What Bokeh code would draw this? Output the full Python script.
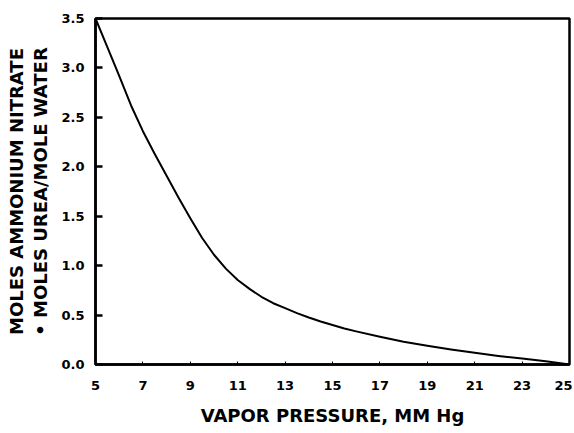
from bokeh.plotting import figure
from bokeh.models import Range1d, FixedTicker
from bokeh.embed import file_html
from bokeh.resources import INLINE

# Data
vapor_pressure = [5, 5.5, 6, 6.5, 7, 7.5, 8, 8.5, 9, 9.5, 10, 10.5, 11, 11.5, 12, 12.5,
                  13, 13.5, 14, 14.5, 15, 15.5, 16, 17, 18, 19, 20, 21, 22, 23, 24, 25]
moles_ratio = [3.5, 3.21, 2.92, 2.62, 2.36, 2.13, 1.91, 1.69, 1.48, 1.28, 1.11, 0.97,
               0.855, 0.765, 0.685, 0.62, 0.57, 0.52, 0.475, 0.435, 0.40, 0.365, 0.335,
               0.28, 0.23, 0.19, 0.152, 0.118, 0.087, 0.06, 0.033, 0.0]

x_ticks = [5, 7, 9, 11, 13, 15, 17, 19, 21, 23, 25]
y_ticks = [0.0, 0.5, 1.0, 1.5, 2.0, 2.5, 3.0, 3.5]
x_title = "VAPOR PRESSURE, MM Hg"
y_title = "MOLES AMMONIUM NITRATE\n\u2022 MOLES UREA/MOLE WATER"

FONT = "DejaVu Sans"

p = figure(width=572, height=431, output_backend="svg", toolbar_location=None,
           x_range=Range1d(5, 25), y_range=Range1d(0, 3.5),
           min_border_left=95, min_border_right=3, min_border_top=18, min_border_bottom=67)

p.line(vapor_pressure, moles_ratio, line_color="black", line_width=2, line_join="round")

p.grid.visible = False
p.outline_line_color = "black"
p.outline_line_width = 2.5
p.background_fill_color = "white"
p.border_fill_color = "white"

p.xaxis.ticker = FixedTicker(ticks=x_ticks)
p.yaxis.ticker = FixedTicker(ticks=y_ticks)
p.yaxis.major_label_overrides = {t: f"{t:.1f}" for t in y_ticks}

for ax in (p.xaxis, p.yaxis):
    ax.axis_line_color = "black"
    ax.axis_line_width = 2.5
    ax.major_tick_line_color = "black"
    ax.minor_tick_line_color = None
    ax.major_tick_out = 0
    ax.major_label_text_font = FONT
    ax.major_label_text_font_style = "bold"
    ax.major_label_text_font_size = "13px"
    ax.major_label_text_color = "black"
    ax.axis_label_text_font = FONT
    ax.axis_label_text_font_style = "bold"
    ax.axis_label_text_color = "black"

p.xaxis.major_tick_in = 3
p.xaxis.major_tick_line_width = 1
p.yaxis.major_tick_in = 7
p.yaxis.major_tick_line_width = 2.5

p.xaxis.major_label_standoff = 16
p.yaxis.major_label_standoff = 11

p.xaxis.axis_label = x_title
p.xaxis.axis_label_text_font_size = "18px"
p.xaxis.axis_label_standoff = 12

p.yaxis.axis_label = y_title
p.yaxis.axis_label_text_font_size = "18px"
p.yaxis.axis_label_standoff = 7
p.yaxis.axis_label_text_line_height = 1.15

open("out.html", "w").write(file_html(p, INLINE))
